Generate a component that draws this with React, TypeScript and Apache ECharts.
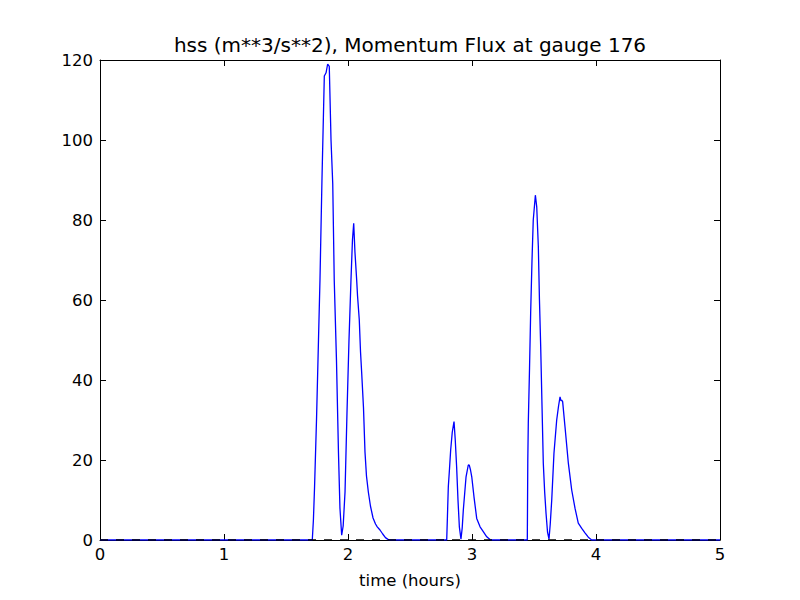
import React, { useEffect, useRef } from "react";
import * as echarts from "echarts";

const titleText = "hss (m**3/s**2), Momentum Flux at gauge 176";
const xLabel = "time (hours)";

const times: number[] = [
  0.0, 1.712, 1.721, 1.73, 1.746, 1.762, 1.774, 1.79, 1.809, 1.823, 1.836, 1.849, 1.863, 1.877, 1.889,
  1.907, 1.923, 1.935, 1.949, 1.961, 1.976, 1.992, 2.008, 2.024, 2.036, 2.046, 2.056, 2.07, 2.077,
  2.091, 2.101, 2.11, 2.125, 2.137, 2.149, 2.164, 2.181, 2.202, 2.222, 2.236, 2.258, 2.28, 2.302,
  2.325, 2.34,
  2.796, 2.802, 2.809, 2.819, 2.828, 2.841, 2.855, 2.865, 2.876, 2.887, 2.898, 2.911, 2.921, 2.93,
  2.952, 2.97, 2.978, 2.988, 2.998, 3.016, 3.038, 3.065, 3.091, 3.119, 3.145, 3.161,
  3.446, 3.45, 3.454, 3.464, 3.473, 3.484, 3.494, 3.511, 3.522, 3.535, 3.544, 3.554, 3.565, 3.575,
  3.586, 3.597, 3.609, 3.621, 3.631, 3.643, 3.661, 3.683, 3.698, 3.71, 3.718, 3.723, 3.731, 3.75,
  3.777, 3.804, 3.831, 3.857, 3.885, 3.911, 3.938, 3.965, 5.0,
];

const flux: number[] = [
  0, 0, 5, 13, 30, 50, 65, 90, 116, 116.8, 119, 118.4, 100, 89, 65,
  45, 22, 8, 1.2, 3.5, 12, 32, 50, 65, 75, 79.2, 72, 65, 61,
  55, 47, 42, 33, 22, 16, 12, 8.5, 5.5, 4, 3.3, 2.5, 1.5, 0.6,
  0.1, 0,
  0, 6, 13.3, 18, 22.5, 27, 29.6, 25, 18.3, 10, 3.3, 0.2, 3, 7.5,
  15.8, 18.75, 18.7, 17.5, 15.8, 10.8, 5.4, 3.3, 2.1, 0.8, 0.1, 0,
  0, 20, 29.2, 43, 56.7, 70, 80, 86.2, 83.3, 73.3, 60, 48.3, 33, 19.2,
  12, 6.7, 2, 0.2, 4, 10, 21.7, 30, 33.5, 35.8, 34.8, 35, 34.6, 28.3,
  19.2, 12.5, 7.9, 4.2, 2.9, 1.8, 0.7, 0, 0,
];

const xTicks = { min: 0, max: 5, interval: 1 };
const yTicks = { min: 0, max: 120, interval: 20 };
const zeroLineX: number[] = [0, 5];
const zeroLineY: number[] = [0, 0];

export default function App() {
  const ref = useRef<HTMLDivElement>(null);
  useEffect(() => {
    if (!ref.current) return;
    const chart = echarts.init(ref.current, undefined, { renderer: "svg" });
    const font = "DejaVu Sans";
    const tickCommon = {
      axisTick: { show: true, inside: true, length: 6, lineStyle: { color: "#000", width: 1 } },
      axisLine: { show: true, onZero: false, lineStyle: { color: "#000", width: 1 } },
      splitLine: { show: false },
    };
    chart.setOption({
      animation: false,
      backgroundColor: "#ffffff",
      textStyle: { fontFamily: font },
      grid: { left: 100, top: 60, right: 80, bottom: 60, containLabel: false },
      graphic: [
        {
          type: "text",
          x: 410,
          y: 45,
          style: {
            text: titleText,
            fontFamily: font,
            fontSize: 20,
            fill: "#000",
            textAlign: "center",
            textVerticalAlign: "middle",
          },
        },
      ],
      xAxis: [
        {
          type: "value",
          ...xTicks,
          position: "bottom",
          ...tickCommon,
          axisLabel: { color: "#000", fontFamily: font, fontSize: 16.5, margin: 6 },
          name: xLabel,
          nameLocation: "middle",
          nameGap: 32,
          nameTextStyle: { color: "#000", fontFamily: font, fontSize: 16.5 },
        },
        {
          type: "value",
          ...xTicks,
          position: "top",
          ...tickCommon,
          axisLabel: { show: false },
        },
      ],
      yAxis: [
        {
          type: "value",
          ...yTicks,
          position: "left",
          ...tickCommon,
          axisLabel: { color: "#000", fontFamily: font, fontSize: 16.5, margin: 7 },
        },
        {
          type: "value",
          ...yTicks,
          position: "right",
          ...tickCommon,
          axisLabel: { show: false },
        },
      ],
      series: [
        {
          type: "line",
          data: times.map((t, i) => [t, flux[i]]),
          showSymbol: false,
          symbol: "none",
          lineStyle: { color: "#0000ff", width: 1.3 },
          z: 2,
        },
        {
          type: "line",
          data: zeroLineX.map((t, i) => [t, zeroLineY[i]]),
          showSymbol: false,
          symbol: "none",
          lineStyle: { color: "#000", width: 1.3, type: [8, 8] },
          z: 3,
        },
      ],
    });
    return () => chart.dispose();
  }, []);
  return (
    <div
      ref={ref}
      style={{ position: "fixed", left: 0, top: 0, width: 800, height: 600, background: "#fff" }}
    />
  );
}
